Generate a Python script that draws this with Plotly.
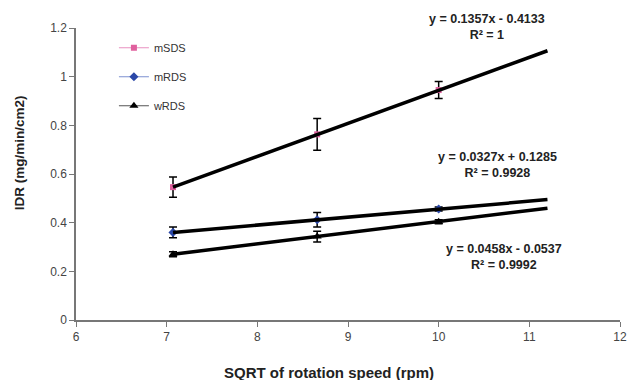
import plotly.graph_objects as go
import numpy as np

# Data
x_vals = [7.07, 8.66, 10.0]
mSDS = [0.546, 0.763, 0.945]
mSDS_err = [0.042, 0.065, 0.035]
mRDS = [0.360, 0.412, 0.456]
mRDS_err = [0.022, 0.030, 0.008]
wRDS = [0.270, 0.343, 0.404]
wRDS_err = [0.010, 0.022, 0.008]

series_names = ["mSDS", "mRDS", "wRDS"]
slopes = [0.1357, 0.0327, 0.0458]
intercepts = [-0.4133, 0.1285, -0.0537]
eq_labels = ["<b>y = 0.1357x - 0.4133<br>R² = 1</b>",
             "<b>y = 0.0327x + 0.1285<br>R² = 0.9928</b>",
             "<b>y = 0.0458x - 0.0537<br>R² = 0.9992</b>"]
trend_x_end = 11.2
x_ticks = [6, 7, 8, 9, 10, 11, 12]
y_ticks = [0, 0.2, 0.4, 0.6, 0.8, 1, 1.2]
x_title = "<b>SQRT of rotation speed (rpm)</b>"
y_title = "<b>IDR (mg/min/cm2)</b>"

font = "Liberation Sans, Arial, sans-serif"
fig = go.Figure()

styles = [
    ("#e0609e", "square", 6, "#e890c0"),
    ("#2b48a8", "diamond", 7, "#7c90d0"),
    ("black", "triangle-up", 8, "#555555"),
]
for i, (name, ys, errs, (mc, sym, sz, lc)) in enumerate(zip(
        series_names, [mSDS, mRDS, wRDS], [mSDS_err, mRDS_err, wRDS_err], styles)):
    fig.add_trace(go.Scatter(
        x=x_vals, y=ys, name=name, mode="lines+markers", legendgroup=f"g{i}",
        line=dict(color=lc, width=1.2),
        marker=dict(color=mc, symbol=sym, size=sz),
        error_y=dict(type="data", array=errs, visible=True, color="black",
                     thickness=1.5, width=4),
    ))

# trendlines (drawn from fit coefficients), on top
tx = np.array([x_vals[0], trend_x_end])
for s, b in zip(slopes, intercepts):
    fig.add_trace(go.Scatter(x=tx, y=s * tx + b, mode="lines",
                             line=dict(color="black", width=3.5),
                             showlegend=False, hoverinfo="skip"))

# equation annotations
ann_pos = [(0.755, 1.003), (0.775, 0.531), (0.786, 0.216)]
for (ax, ay), txt in zip(ann_pos, eq_labels):
    fig.add_annotation(x=ax, y=ay, text=txt, showarrow=False, xref="paper", yref="paper",
                       xanchor="center", yanchor="middle",
                       font=dict(family=font, size=12.5, color="#222"),
                       align="center")

# axis titles
fig.add_annotation(x=0.465, y=-0.1815, text=x_title, showarrow=False,
                   xref="paper", yref="paper", xanchor="center", yanchor="middle",
                   font=dict(family=font, size=15, color="#222"))
fig.add_annotation(x=-0.1026, y=0.572, text=y_title, showarrow=False, textangle=-90,
                   xref="paper", yref="paper", xanchor="center", yanchor="middle",
                   font=dict(family=font, size=13.5, color="#222"))

fig.update_layout(
    width=628, height=380,
    margin=dict(l=76, r=8, t=28, b=60),
    paper_bgcolor="white", plot_bgcolor="white",
    font=dict(family=font, size=12, color="#444"),
    showlegend=True,
    legend=dict(x=0.0697, y=0.982, xanchor="left", yanchor="top",
                bgcolor="rgba(0,0,0,0)", font=dict(size=11, color="#333"),
                tracegroupgap=10),
    xaxis=dict(range=[6, 12], tickvals=x_ticks, showgrid=False, zeroline=False,
               showline=True, linecolor="#777", linewidth=1.5, ticks="outside",
               ticklen=5, tickcolor="#777", automargin=False,
               ticklabeloverflow="allow"),
    yaxis=dict(range=[0, 1.2], tickvals=y_ticks, showgrid=False, zeroline=False,
               showline=True, linecolor="#777", linewidth=1.5, ticks="outside",
               ticklen=5, tickcolor="#777", automargin=False),
)

fig.write_html("out.html", config={"displayModeBar": False},
               post_script="document.body.style.margin='0px';document.body.style.overflow='hidden';")
